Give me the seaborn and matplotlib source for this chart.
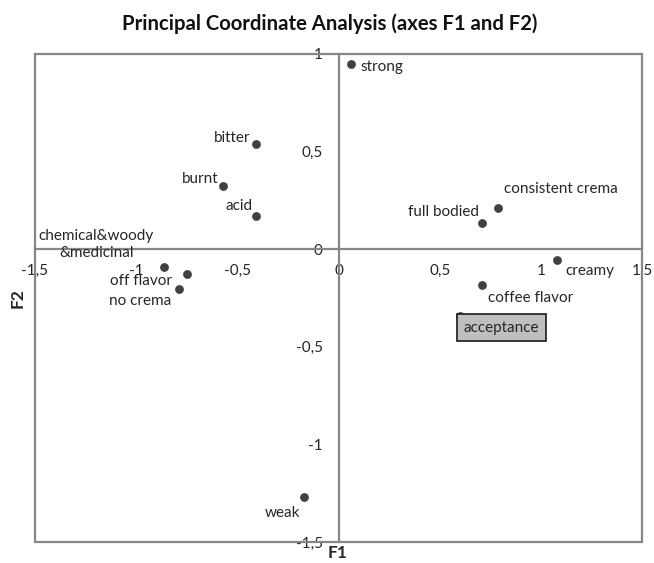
import matplotlib
matplotlib.use("Agg")
import matplotlib.pyplot as plt
from matplotlib.patches import Rectangle
import seaborn as sns
import pandas as pd

# Attribute coordinates on the first two principal coordinates
attributes = ["strong", "bitter", "burnt", "acid", "consistent crema", "full bodied",
              "creamy", "coffee flavor", "acceptance", "chemical&woody\n&medicinal",
              "off flavor", "no crema", "weak"]
f1 = [0.064, -0.41, -0.57, -0.41, 0.79, 0.71, 1.08, 0.71, 0.60, -0.86, -0.75, -0.79, -0.17]
f2 = [0.95, 0.537, 0.322, 0.169, 0.21, 0.133, -0.056, -0.185, -0.34, -0.092, -0.128, -0.205, -1.27]

x_ticks = [-1.5, -1.0, -0.5, 0.0, 0.5, 1.0, 1.5]
x_tick_labels = ["-1,5", "-1", "-0,5", "0", "0,5", "1", "1,5"]
y_ticks = [-1.5, -1.0, -0.5, 0.0, 0.5, 1.0]
y_tick_labels = ["-1,5", "-1", "-0,5", "0", "0,5", "1"]

df = pd.DataFrame({"F1": f1, "F2": f2, "label": attributes})

sns.set_style("white")
plt.rcParams["font.family"] = ["Lato", "DejaVu Sans"]

AX_GRAY = "#868686"
DOT = "#404040"
TXT = "#262626"
FS = 11

fig = plt.figure(figsize=(6.54, 5.63), dpi=100)
ax = fig.add_axes([35 / 654, (563 - 542) / 563, (642 - 35) / 654, (542 - 54) / 563])

sns.scatterplot(data=df, x="F1", y="F2", ax=ax, color=DOT, s=40, edgecolor=DOT,
                linewidth=0, zorder=3, legend=False)

ax.set_xlim(-1.5, 1.5)
ax.set_ylim(-1.5, 1.0)

# Axes crossing at the origin
for side in ("top", "right"):
    ax.spines[side].set_visible(False)
ax.spines["left"].set_position(("data", 0))
ax.spines["bottom"].set_position(("data", 0))
for side in ("left", "bottom"):
    ax.spines[side].set_color(AX_GRAY)
    ax.spines[side].set_linewidth(1.6)
ax.add_patch(Rectangle((0, 0), 1, 1, transform=ax.transAxes, fill=False,
                       edgecolor=AX_GRAY, linewidth=1.6, clip_on=False, zorder=1))

ax.set_xticks(x_ticks)
ax.set_xticklabels(x_tick_labels)
ax.set_yticks(y_ticks)
ax.set_yticklabels(y_tick_labels)
ax.tick_params(axis="both", direction="inout", length=9, width=1.2, color=AX_GRAY,
               labelsize=FS, labelcolor=TXT)
ax.tick_params(axis="x", pad=6)
ax.tick_params(axis="y", pad=7)

ax.set_xlabel("")
ax.set_ylabel("")
fig.text(338 / 654, 1 - 553 / 563, "F1", ha="center", va="center", fontsize=12.5,
         fontweight="bold", color=TXT)
fig.text(18 / 654, 1 - 298 / 563, "F2", ha="center", va="center", fontsize=12.5,
         fontweight="bold", color=TXT, rotation=90)
fig.text(330 / 654, 1 - 24 / 563, "Principal Coordinate Analysis (axes F1 and F2)",
         ha="center", va="center", fontsize=14.6, fontweight="bold", color="#111111")

# Label placement (pixel offsets from each point)
offsets = {
    "strong": (9, -3, "left"),
    "bitter": (-5, 6, "right"),
    "burnt": (-5, 7, "right"),
    "acid": (-3, 10, "right"),
    "consistent crema": (6, 19, "left"),
    "full bodied": (-3, 11, "right"),
    "creamy": (8, -11, "left"),
    "coffee flavor": (6, -13, "left"),
    "chemical&woody\n&medicinal": (-68, 23, "center"),
    "off flavor": (-15, -7, "right"),
    "no crema": (-7, -12, "right"),
    "weak": (-4, -16, "right"),
}
for lab, x, y in zip(attributes, f1, f2):
    if lab == "acceptance":
        ax.annotate(lab, (x, y), xytext=(4, -12), textcoords="offset pixels",
                    ha="left", va="center", fontsize=FS, color=TXT, zorder=4,
                    bbox=dict(boxstyle="square,pad=0.45", facecolor="#bfbfbf",
                              edgecolor="#1a1a1a", linewidth=1.2))
        continue
    dx, dy, ha = offsets[lab]
    ax.annotate(lab, (x, y), xytext=(dx, dy), textcoords="offset pixels",
                ha=ha, va="center", fontsize=FS, color=TXT, zorder=4,
                multialignment="center", linespacing=1.25)

fig.savefig("out.png", dpi=100, facecolor="white")
